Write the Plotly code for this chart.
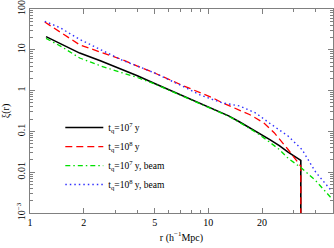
import plotly.graph_objects as go

# r values (h^-1 Mpc) and xi(r)
r_q7 = [1.23, 1.5, 1.9, 2.5, 3.2, 4, 5, 7, 10, 13, 15, 17, 19, 22, 25, 28, 33, 33]
xi_q7 = [21, 13.5, 8.3, 5.3, 3.5, 2.3, 1.5, 0.78, 0.40, 0.24, 0.17, 0.125, 0.095, 0.064, 0.045, 0.031, 0.0195, 1e-5]

r_q8 = [1.21, 1.5, 1.9, 2.5, 3.3, 4, 5, 7, 9, 10.6, 12, 14.5, 17, 18.5, 20.5, 23.4, 26, 28, 33, 33]
xi_q8 = [48, 26, 13.2, 8.7, 5.7, 4.0, 2.7, 1.4, 0.9, 0.66, 0.5, 0.35, 0.26, 0.21, 0.16, 0.093, 0.054, 0.036, 0.014, 1e-5]

r_q7b = [1.23, 1.5, 1.9, 2.5, 3.1, 4, 5, 7, 10, 13, 15, 17, 19, 22, 25, 28, 33, 40, 49]
xi_q7b = [19, 12, 6.3, 4.0, 2.95, 2.1, 1.45, 0.77, 0.40, 0.235, 0.165, 0.12, 0.088, 0.055, 0.036, 0.022, 0.013, 0.0062, 0.0023]

r_q8b = [1.21, 1.47, 1.9, 2.5, 3.3, 4, 5, 7, 8.9, 10.6, 12, 15, 17, 18.5, 22, 25, 28, 33.5, 40, 49]
xi_q8b = [50, 35, 18, 10, 5.5, 4.0, 2.7, 1.35, 0.8, 0.6, 0.5, 0.42, 0.33, 0.28, 0.16, 0.11, 0.077, 0.036, 0.01, 0.0035]

x_tickvals = [1, 2, 5, 10, 20]
x_ticktext = ["1", "2", "5", "10", "20"]
x_minor = [3, 4, 6, 7, 8, 9, 30, 40]
y_tickvals = [0.001, 0.01, 0.1, 1, 10, 100]
y_ticktext = ["10<sup>\u22123</sup>", "0.01", "0.1", "1", "10", "100"]
y_minor = [m * 10 ** e for e in range(-3, 2) for m in range(2, 10)]

FONT = "Liberation Serif"

fig = go.Figure()
fig.add_trace(go.Scatter(x=r_q7, y=xi_q7, mode="lines",
                         name="t<sub>q</sub>=10<sup>7</sup> y",
                         line=dict(color="black", width=1.6)))
fig.add_trace(go.Scatter(x=r_q8, y=xi_q8, mode="lines",
                         name="t<sub>q</sub>=10<sup>8</sup> y",
                         line=dict(color="#ff0000", width=1.3, dash="7px,4px")))
fig.add_trace(go.Scatter(x=r_q7b, y=xi_q7b, mode="lines",
                         name="t<sub>q</sub>=10<sup>7</sup> y, beam",
                         line=dict(color="#00e000", width=1.3, dash="5px,3px,1.5px,3px")))
fig.add_trace(go.Scatter(x=r_q8b, y=xi_q8b, mode="lines",
                         name="t<sub>q</sub>=10<sup>8</sup> y, beam",
                         line=dict(color="#3030ff", width=1.4, dash="1.5px,3px")))

axis_common = dict(showline=True, linecolor="#808080", linewidth=1, mirror="ticks",
                   ticks="inside", ticklen=5, tickcolor="#808080", showgrid=False,
                   zeroline=False, automargin=False,
                   tickfont=dict(family=FONT, size=10, color="black"))

fig.update_xaxes(type="log", range=[0, 1.699], tickmode="array",
                 tickvals=x_tickvals, ticktext=x_ticktext,
                 minor=dict(tickmode="array", tickvals=x_minor, ticks="inside",
                            ticklen=3, tickcolor="#808080"),
                 title=dict(text="r (h<sup>\u22121</sup>Mpc)",
                            font=dict(family=FONT, size=10, color="black"), standoff=6),
                 **axis_common)
fig.update_yaxes(type="log", range=[-3, 2], tickmode="array",
                 tickvals=y_tickvals, ticktext=y_ticktext, tickangle=-90,
                 minor=dict(tickmode="array", tickvals=y_minor, ticks="inside",
                            ticklen=3, tickcolor="#808080"),
                 title=dict(text="\u03be(r)",
                            font=dict(family=FONT, size=10, color="black"), standoff=4),
                 **axis_common)

fig.update_layout(width=334, height=248,
                  margin=dict(l=30, r=1, t=9, b=35),
                  paper_bgcolor="white", plot_bgcolor="white",
                  legend=dict(x=0.1, y=0.49, xanchor="left", yanchor="top",
                              bgcolor="rgba(0,0,0,0)", tracegroupgap=0,
                              itemwidth=38,
                              font=dict(family=FONT, size=9.5, color="black")),
                  showlegend=True)

fig.write_html("out.html", config={"displayModeBar": False},
               post_script="document.body.style.margin='0';document.body.style.overflow='hidden';")
